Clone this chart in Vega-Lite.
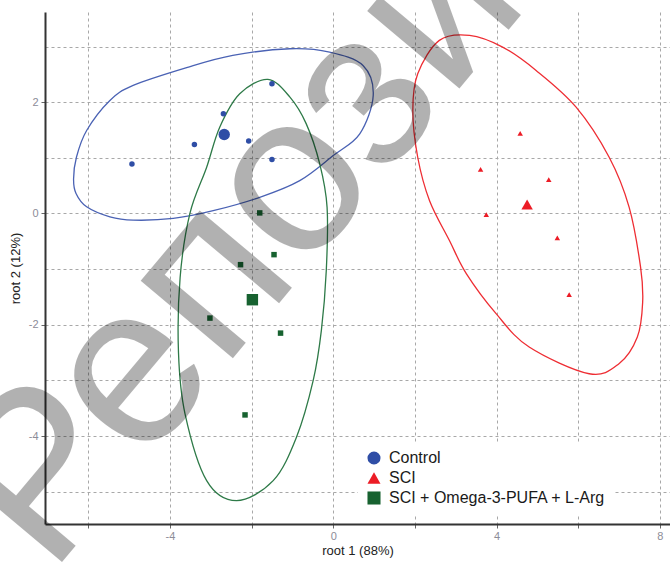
{
  "$schema": "https://vega.github.io/schema/vega-lite/v6.json",
  "width": 625,
  "height": 512,
  "autosize": {"type": "none"},
  "padding": {"left": 45, "top": 12, "right": 0, "bottom": 39},
  "background": "white",
  "config": {"view": {"stroke": null}, "font": "Liberation Sans"},
  "datasets": {
    "pts": [
      {"group": "Control", "kind": "case", "x": -4.93, "y": 0.89},
      {"group": "Control", "kind": "case", "x": -3.40, "y": 1.24},
      {"group": "Control", "kind": "case", "x": -2.69, "y": 1.79},
      {"group": "Control", "kind": "case", "x": -2.07, "y": 1.30},
      {"group": "Control", "kind": "case", "x": -1.50, "y": 2.33},
      {"group": "Control", "kind": "case", "x": -1.50, "y": 0.97},
      {"group": "Control", "kind": "mean", "x": -2.67, "y": 1.42},
      {"group": "SCI", "kind": "case", "x": 4.58, "y": 1.44},
      {"group": "SCI", "kind": "case", "x": 3.61, "y": 0.79},
      {"group": "SCI", "kind": "case", "x": 5.28, "y": 0.61},
      {"group": "SCI", "kind": "case", "x": 3.75, "y": -0.02},
      {"group": "SCI", "kind": "case", "x": 5.49, "y": -0.44},
      {"group": "SCI", "kind": "case", "x": 5.78, "y": -1.46},
      {"group": "SCI", "kind": "mean", "x": 4.75, "y": 0.16},
      {"group": "SCI + Omega-3-PUFA + L-Arg", "kind": "case", "x": -1.80, "y": 0.01},
      {"group": "SCI + Omega-3-PUFA + L-Arg", "kind": "case", "x": -1.45, "y": -0.74},
      {"group": "SCI + Omega-3-PUFA + L-Arg", "kind": "case", "x": -2.27, "y": -0.92},
      {"group": "SCI + Omega-3-PUFA + L-Arg", "kind": "case", "x": -3.02, "y": -1.88},
      {"group": "SCI + Omega-3-PUFA + L-Arg", "kind": "case", "x": -1.29, "y": -2.15},
      {"group": "SCI + Omega-3-PUFA + L-Arg", "kind": "case", "x": -2.16, "y": -3.62},
      {"group": "SCI + Omega-3-PUFA + L-Arg", "kind": "mean", "x": -1.98, "y": -1.55}
    ],
    "ell": [
      {"group": "Control", "o": 1, "x": -6.36, "y": 0.62},
      {"group": "Control", "o": 2, "x": -6.29, "y": 1.01},
      {"group": "Control", "o": 3, "x": -6.04, "y": 1.49},
      {"group": "Control", "o": 4, "x": -5.47, "y": 2.03},
      {"group": "Control", "o": 5, "x": -4.9, "y": 2.3},
      {"group": "Control", "o": 6, "x": -3.59, "y": 2.62},
      {"group": "Control", "o": 7, "x": -2.46, "y": 2.84},
      {"group": "Control", "o": 8, "x": -1.06, "y": 2.96},
      {"group": "Control", "o": 9, "x": -0.09, "y": 2.9},
      {"group": "Control", "o": 10, "x": 0.73, "y": 2.66},
      {"group": "Control", "o": 11, "x": 0.98, "y": 2.12},
      {"group": "Control", "o": 12, "x": 0.65, "y": 1.43},
      {"group": "Control", "o": 13, "x": 0.0, "y": 1.04},
      {"group": "Control", "o": 14, "x": -0.82, "y": 0.59},
      {"group": "Control", "o": 15, "x": -1.8, "y": 0.29},
      {"group": "Control", "o": 16, "x": -2.94, "y": 0.05},
      {"group": "Control", "o": 17, "x": -3.92, "y": -0.09},
      {"group": "Control", "o": 18, "x": -4.9, "y": -0.12},
      {"group": "Control", "o": 19, "x": -5.47, "y": -0.06},
      {"group": "Control", "o": 20, "x": -6.04, "y": 0.12},
      {"group": "Control", "o": 21, "x": -6.3, "y": 0.36},
      {"group": "SCI + Omega-3-PUFA + L-Arg", "o": 1, "x": -1.6, "y": 2.41},
      {"group": "SCI + Omega-3-PUFA + L-Arg", "o": 2, "x": -1.06, "y": 2.09},
      {"group": "SCI + Omega-3-PUFA + L-Arg", "o": 3, "x": -0.66, "y": 1.61},
      {"group": "SCI + Omega-3-PUFA + L-Arg", "o": 4, "x": -0.33, "y": 0.89},
      {"group": "SCI + Omega-3-PUFA + L-Arg", "o": 5, "x": -0.15, "y": 0.11},
      {"group": "SCI + Omega-3-PUFA + L-Arg", "o": 6, "x": -0.17, "y": -1.03},
      {"group": "SCI + Omega-3-PUFA + L-Arg", "o": 7, "x": -0.29, "y": -2.1},
      {"group": "SCI + Omega-3-PUFA + L-Arg", "o": 8, "x": -0.49, "y": -3.0},
      {"group": "SCI + Omega-3-PUFA + L-Arg", "o": 9, "x": -0.9, "y": -4.02},
      {"group": "SCI + Omega-3-PUFA + L-Arg", "o": 10, "x": -1.47, "y": -4.8},
      {"group": "SCI + Omega-3-PUFA + L-Arg", "o": 11, "x": -2.37, "y": -5.16},
      {"group": "SCI + Omega-3-PUFA + L-Arg", "o": 12, "x": -3.1, "y": -4.8},
      {"group": "SCI + Omega-3-PUFA + L-Arg", "o": 13, "x": -3.63, "y": -3.6},
      {"group": "SCI + Omega-3-PUFA + L-Arg", "o": 14, "x": -3.79, "y": -2.5},
      {"group": "SCI + Omega-3-PUFA + L-Arg", "o": 15, "x": -3.75, "y": -1.15},
      {"group": "SCI + Omega-3-PUFA + L-Arg", "o": 16, "x": -3.51, "y": 0.0},
      {"group": "SCI + Omega-3-PUFA + L-Arg", "o": 17, "x": -3.1, "y": 0.83},
      {"group": "SCI + Omega-3-PUFA + L-Arg", "o": 18, "x": -2.78, "y": 1.55},
      {"group": "SCI + Omega-3-PUFA + L-Arg", "o": 19, "x": -2.29, "y": 2.15},
      {"group": "SCI", "o": 1, "x": 3.34, "y": 3.2},
      {"group": "SCI", "o": 2, "x": 4.15, "y": 2.99},
      {"group": "SCI", "o": 3, "x": 4.97, "y": 2.57},
      {"group": "SCI", "o": 4, "x": 5.95, "y": 1.91},
      {"group": "SCI", "o": 5, "x": 6.76, "y": 1.01},
      {"group": "SCI", "o": 6, "x": 7.25, "y": 0.11},
      {"group": "SCI", "o": 7, "x": 7.53, "y": -0.97},
      {"group": "SCI", "o": 8, "x": 7.58, "y": -1.6},
      {"group": "SCI", "o": 9, "x": 7.45, "y": -2.22},
      {"group": "SCI", "o": 10, "x": 7.0, "y": -2.7},
      {"group": "SCI", "o": 11, "x": 6.27, "y": -2.88},
      {"group": "SCI", "o": 12, "x": 4.8, "y": -2.4},
      {"group": "SCI", "o": 13, "x": 3.99, "y": -1.8},
      {"group": "SCI", "o": 14, "x": 3.26, "y": -1.08},
      {"group": "SCI", "o": 15, "x": 2.85, "y": -0.49},
      {"group": "SCI", "o": 16, "x": 2.36, "y": 0.23},
      {"group": "SCI", "o": 17, "x": 2.07, "y": 1.01},
      {"group": "SCI", "o": 18, "x": 1.95, "y": 1.85},
      {"group": "SCI", "o": 19, "x": 2.07, "y": 2.51},
      {"group": "SCI", "o": 20, "x": 2.6, "y": 3.11}
    ],
    "wm": [
      {"label": "Репозиторий", "x": -6.94, "y": -6.52}
    ]
  },
  "layer": [
    {
      "data": {"name": "ell"},
      "mark": {"type": "line", "interpolate": "cardinal-closed", "strokeWidth": 1.3},
      "encoding": {
        "x": {
          "field": "x", "type": "quantitative",
          "scale": {"domain": [-7.06, 8.25], "nice": false, "zero": false},
          "axis": {
            "title": "root 1 (88%)",
            "values": [-6, -4, -2, 0, 2, 4, 6, 8],
            "labelExpr": "datum.value % 4 === 0 ? '' + datum.value : ''",
            "grid": true, "gridDash": [3, 3], "gridColor": "#a8a8a8", "gridWidth": 1,
            "domainColor": "#333333", "domainWidth": 2,
            "tickColor": "#666666", "tickSize": 4,
            "labelColor": "#8c8c98", "labelFontSize": 11, "labelPadding": 2,
            "titleFontSize": 13, "titleFontWeight": "normal", "titleColor": "#222222", "titlePadding": 3
          }
        },
        "y": {
          "field": "y", "type": "quantitative",
          "scale": {"domain": [-5.58, 3.62], "nice": false, "zero": false},
          "axis": {
            "title": "root 2 (12%)",
            "values": [-5, -4, -3, -2, -1, 0, 1, 2, 3],
            "labelExpr": "datum.value % 2 === 0 ? '' + datum.value : ''",
            "grid": true, "gridDash": [3, 3], "gridColor": "#a8a8a8", "gridWidth": 1,
            "domainColor": "#333333", "domainWidth": 2,
            "tickColor": "#666666", "tickSize": 4,
            "tickOpacity": {"condition": {"test": "datum.value % 2 === 0", "value": 1}, "value": 0},
            "labelColor": "#8c8c98", "labelFontSize": 11, "labelPadding": 3,
            "titleFontSize": 13, "titleFontWeight": "normal", "titleColor": "#222222", "titlePadding": 6
          }
        },
        "order": {"field": "o", "type": "quantitative"},
        "detail": {"field": "group", "type": "nominal"},
        "stroke": {
          "condition": [
            {"test": "datum.group === 'Control'", "value": "#4a62b4"},
            {"test": "datum.group === 'SCI'", "value": "#ee2d33"}
          ],
          "value": "#2e7a48"
        }
      }
    },
    {
      "data": {"name": "pts"},
      "mark": {"type": "point", "filled": true, "opacity": 1},
      "encoding": {
        "x": {"field": "x", "type": "quantitative"},
        "y": {"field": "y", "type": "quantitative"},
        "color": {
          "field": "group", "type": "nominal",
          "scale": {"domain": ["Control", "SCI", "SCI + Omega-3-PUFA + L-Arg"], "range": ["#2f4ea6", "#ec1c26", "#176230"]},
          "legend": {
            "orient": "none", "legendX": 313, "legendY": 430, "title": null,
            "labelFontSize": 16, "labelColor": "#1a1a1a", "symbolSize": 170,
            "rowPadding": 4, "fillColor": "white", "padding": 8, "labelOffset": 7, "labelLimit": 400
          }
        },
        "shape": {
          "field": "group", "type": "nominal",
          "scale": {"domain": ["Control", "SCI", "SCI + Omega-3-PUFA + L-Arg"], "range": ["circle", "triangle-up", "square"]},
          "legend": {
            "orient": "none", "legendX": 313, "legendY": 430, "title": null,
            "labelFontSize": 16, "labelColor": "#1a1a1a", "symbolSize": 170,
            "rowPadding": 4, "fillColor": "white", "padding": 8, "labelOffset": 7, "labelLimit": 400
          }
        },
        "size": {
          "field": "kind", "type": "ordinal",
          "scale": {"domain": ["case", "mean"], "range": [30, 130]},
          "legend": null
        }
      }
    },
    {
      "data": {"name": "wm"},
      "mark": {"type": "text", "font": "Liberation Sans", "fontSize": 228, "angle": -50, "align": "left", "baseline": "alphabetic", "color": "#000000", "opacity": 0.3},
      "encoding": {
        "x": {"field": "x", "type": "quantitative"},
        "y": {"field": "y", "type": "quantitative"},
        "text": {"field": "label"}
      }
    }
  ]
}
